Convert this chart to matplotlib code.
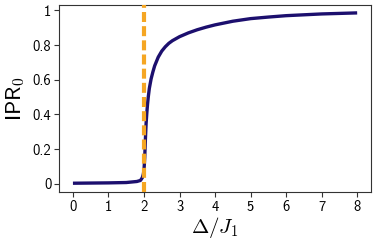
import matplotlib
matplotlib.use("Agg")
import matplotlib.pyplot as plt

delta = [0.0, 0.5, 1.0, 1.5, 1.8, 1.9, 1.95, 1.98, 2.0, 2.02, 2.04, 2.06, 2.08, 2.1, 2.12, 2.15, 2.2, 2.25, 2.3, 2.4, 2.5, 2.6, 2.7, 2.8, 3.0, 3.25, 3.5, 3.75, 4.0, 4.5, 5.0, 5.5, 6.0, 6.5, 7.0, 7.5, 8.0]
ipr = [0.004, 0.005, 0.006, 0.008, 0.014, 0.02, 0.035, 0.055, 0.08, 0.15, 0.26, 0.35, 0.41, 0.46, 0.50, 0.55, 0.605, 0.645, 0.68, 0.73, 0.765, 0.79, 0.81, 0.825, 0.848, 0.87, 0.888, 0.903, 0.916, 0.937, 0.952, 0.961, 0.969, 0.974, 0.979, 0.982, 0.985]
critical = 2.0
xticks = [0, 1, 2, 3, 4, 5, 6, 7, 8]
yticks = [0, 0.2, 0.4, 0.6, 0.8, 1]
yticklabels = ["0", "0.2", "0.4", "0.6", "0.8", "1"]

plt.rcParams['font.family'] = ['cmss10', 'DejaVu Sans']
plt.rcParams['mathtext.fontset'] = 'cm'
plt.rcParams['axes.formatter.use_mathtext'] = True

fig = plt.figure(figsize=(3.74, 2.42), dpi=100)
ax = fig.add_axes([0.158, 0.207, 0.834, 0.772])
ax.plot(delta, ipr, color='#1c0f6e', lw=2.4, zorder=2, solid_capstyle='butt', solid_joinstyle='round')
ax.axvline(critical, color='#f5a623', lw=3, ls=(0, (2.4, 1.0)), zorder=3)
ax.set_xlim(-0.39, 8.39)
ax.set_ylim(-0.046, 1.03)
ax.set_xticks(xticks)
ax.set_xticklabels([str(t) for t in xticks])
ax.set_yticks(yticks)
ax.set_yticklabels(yticklabels)
ax.tick_params(labelsize=10.5, length=3.5, width=0.8, color='#333333', pad=2)
for s in ax.spines.values():
    s.set_color('#333333')
    s.set_linewidth(0.8)
ax.set_xlabel(r'$\Delta/J_1$', fontsize=15, labelpad=1)
ax.set_ylabel(r'IPR$_0$', fontsize=16, labelpad=4)
fig.savefig('out.png', dpi=100)
